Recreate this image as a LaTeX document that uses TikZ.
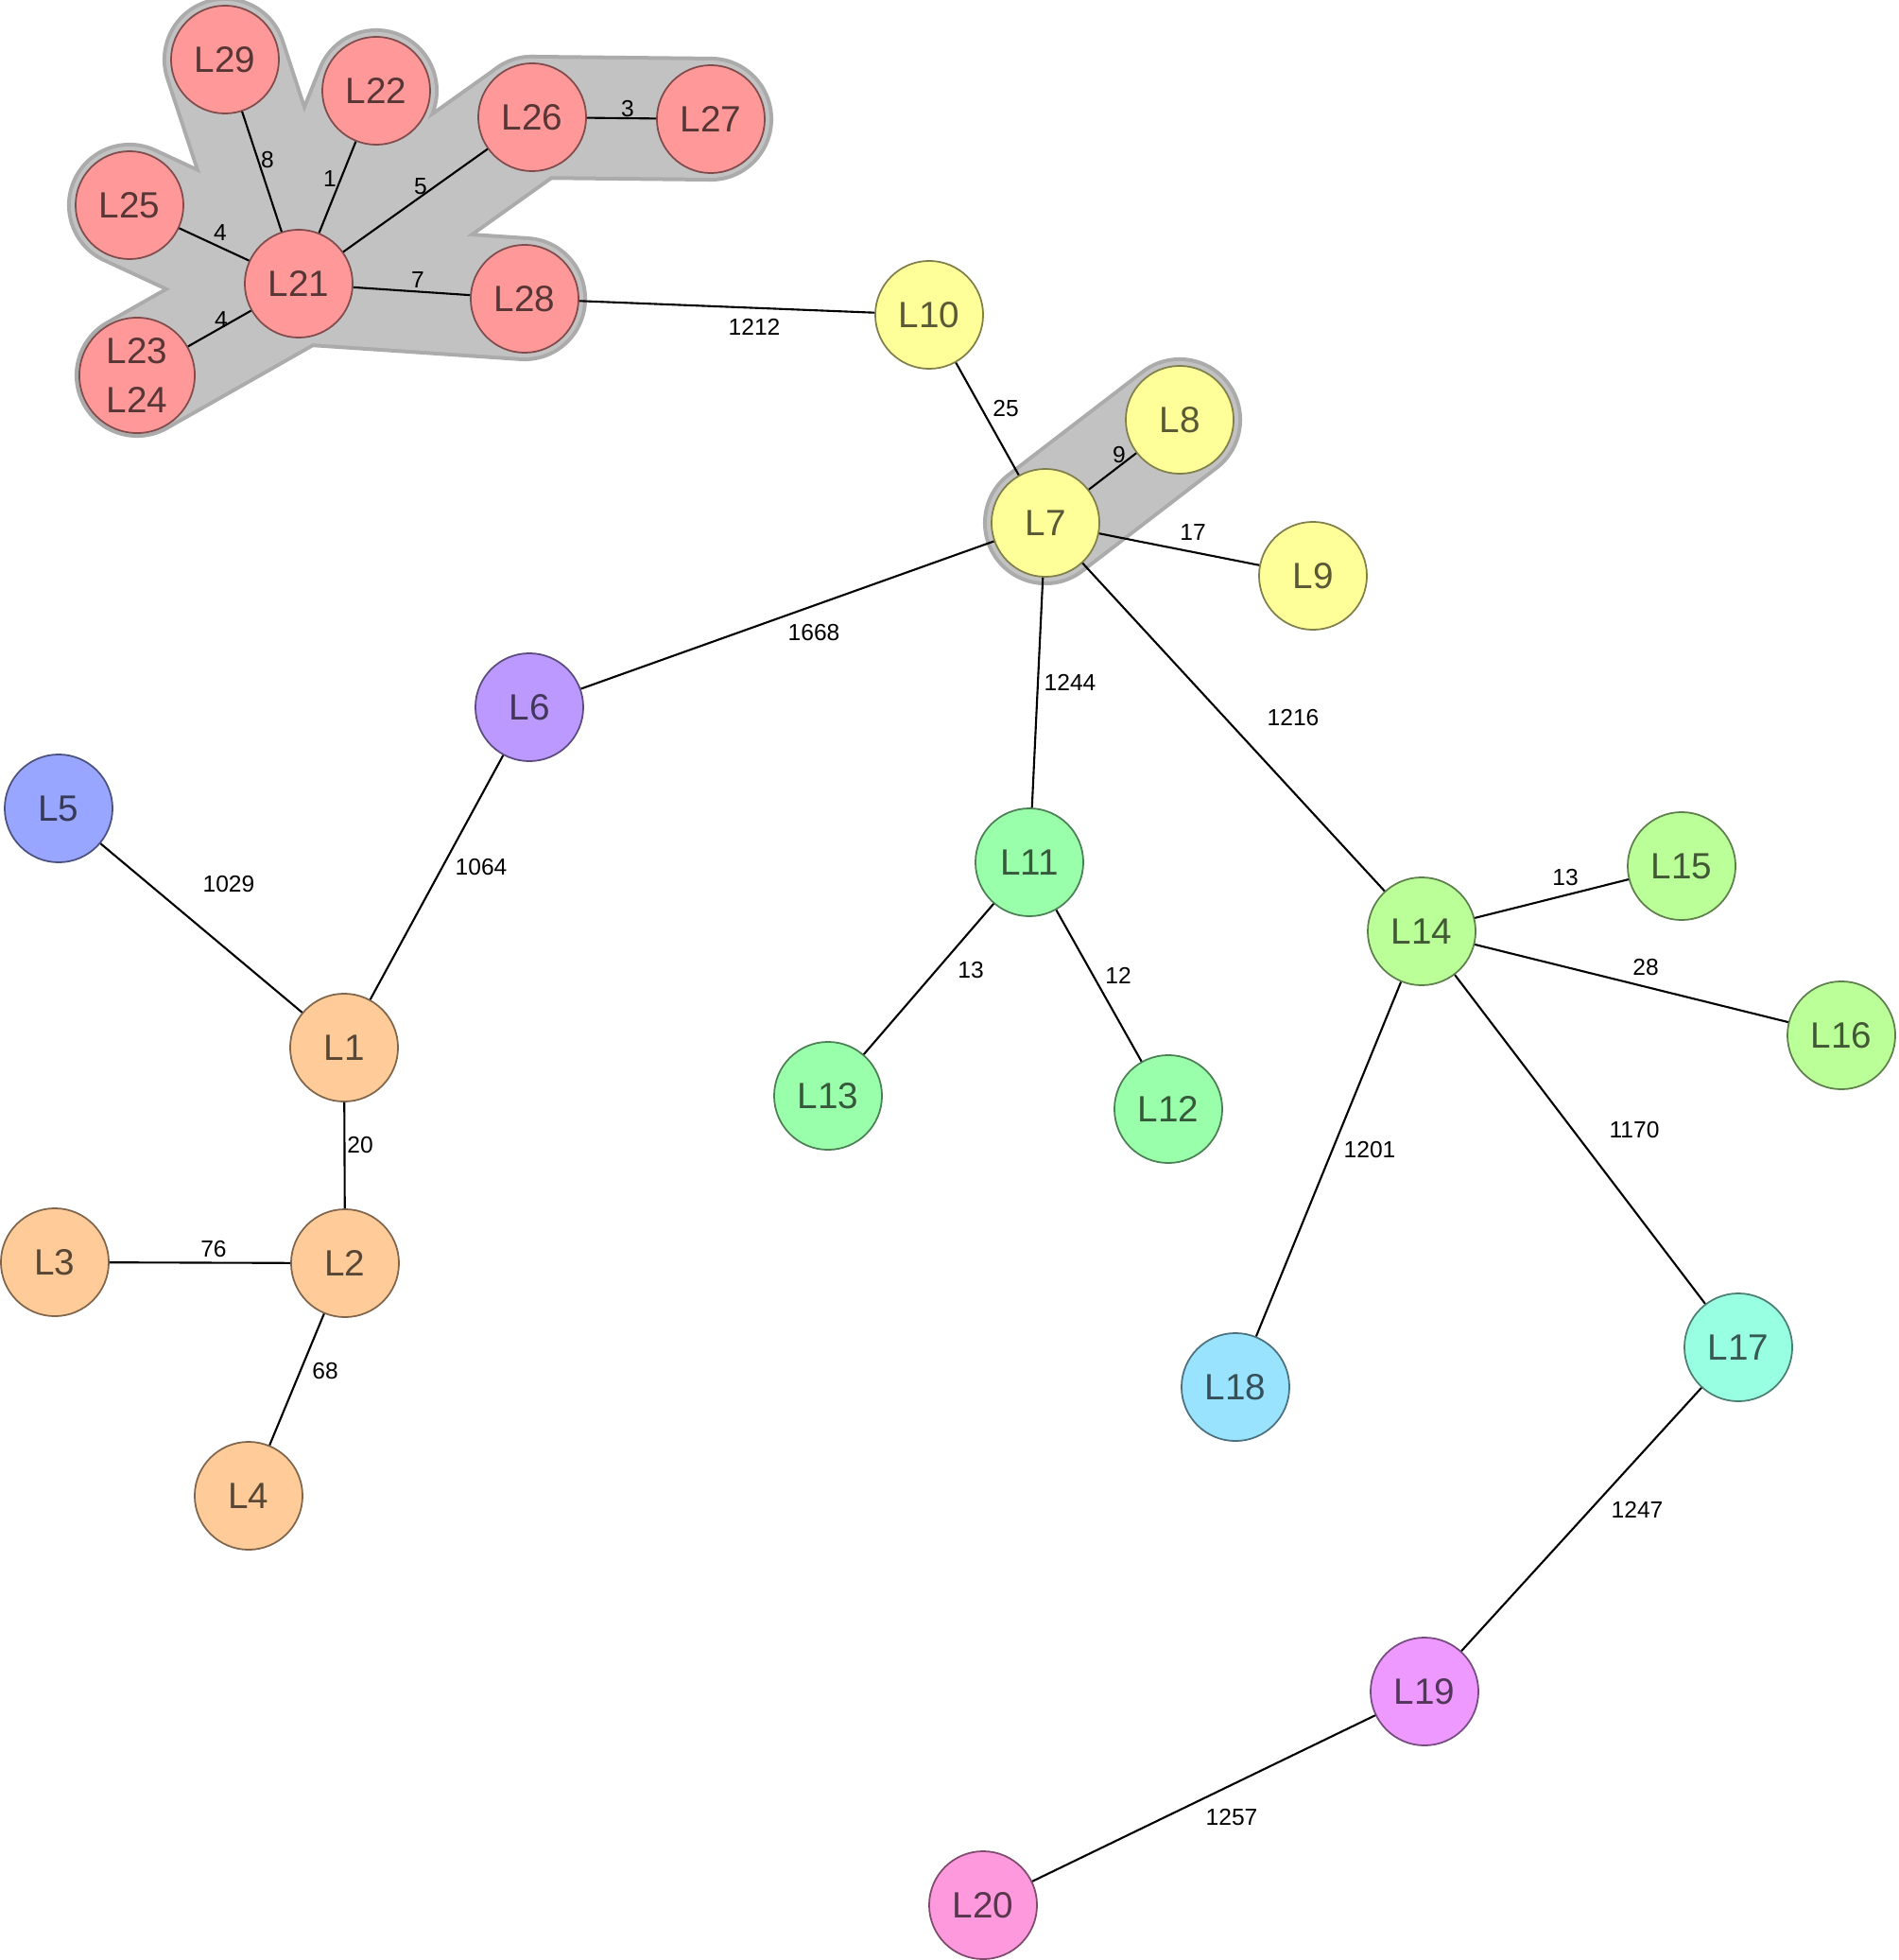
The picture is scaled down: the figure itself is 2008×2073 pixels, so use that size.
\documentclass[tikz,border=0pt]{standalone}
\usepackage{fontspec}
\setmainfont{Liberation Sans}
\usetikzlibrary{backgrounds}
\definecolor{stRed}{HTML}{FF9999}
\definecolor{stYellow}{HTML}{FFFF99}
\definecolor{stOrange}{HTML}{FFCC99}
\definecolor{stBlue}{HTML}{99A6FF}
\definecolor{stPurple}{HTML}{BB99FF}
\definecolor{stGreen}{HTML}{99FFAA}
\definecolor{stLime}{HTML}{BBFF99}
\definecolor{stSky}{HTML}{99E3FF}
\definecolor{stAqua}{HTML}{99FFE3}
\definecolor{stViolet}{HTML}{EE99FF}
\definecolor{stPink}{HTML}{FF99DD}
\definecolor{haloGray}{HTML}{C2C2C2}
\definecolor{haloEdge}{HTML}{ABABAB}
\tikzset{
  strainNode/.style={circle, fill=#1, draw=#1!50!black, text=#1!35!black, line width=0.5pt,
    minimum size=1.14cm, inner sep=0pt, font=\fontsize{11}{15}\selectfont},
  distEdge/.style={draw=black, line width=0.6pt},
  distLabel/.style={font=\fontsize{7}{8}\selectfont, inner sep=1pt},
  haloRim/.style={draw=haloEdge, line width=1.32cm, line cap=round},
  haloFill/.style={draw=haloGray, line width=1.24cm, line cap=round}
}

\begin{document}
\begin{tikzpicture}[x=0.01cm,y=-0.01cm]
  \useasboundingbox (0,0) rectangle (2008,2073);
  % red cluster
  \node[strainNode=stRed] (L21) at (316,300) {L21};
  \node[strainNode=stRed] (L29) at (238,63) {L29};
  \node[strainNode=stRed] (L22) at (398,96) {L22};
  \node[strainNode=stRed] (L26) at (563,124) {L26};
  \node[strainNode=stRed] (L27) at (752,126) {L27};
  \node[strainNode=stRed] (L25) at (137,217) {L25};
  \node[strainNode=stRed] (L28) at (555,316) {L28};
  \node[strainNode=stRed, minimum size=1.22cm, align=center] (L23) at (145,397) {L23\\L24};
  % yellow
  \node[strainNode=stYellow] (L10) at (983,333) {L10};
  \node[strainNode=stYellow] (L7) at (1106,553) {L7};
  \node[strainNode=stYellow] (L8) at (1248,444) {L8};
  \node[strainNode=stYellow] (L9) at (1389,609) {L9};
  % left part
  \node[strainNode=stPurple] (L6) at (560,748) {L6};
  \node[strainNode=stBlue] (L5) at (62,855) {L5};
  \node[strainNode=stOrange] (L1) at (364,1108) {L1};
  \node[strainNode=stOrange] (L2) at (365,1336) {L2};
  \node[strainNode=stOrange] (L3) at (58,1335) {L3};
  \node[strainNode=stOrange] (L4) at (263,1582) {L4};
  % greens
  \node[strainNode=stGreen] (L11) at (1089,912) {L11};
  \node[strainNode=stGreen] (L13) at (876,1159) {L13};
  \node[strainNode=stGreen] (L12) at (1236,1173) {L12};
  \node[strainNode=stLime] (L14) at (1504,985) {L14};
  \node[strainNode=stLime] (L15) at (1779,916) {L15};
  \node[strainNode=stLime] (L16) at (1948,1095) {L16};
  % lower right
  \node[strainNode=stSky] (L18) at (1307,1467) {L18};
  \node[strainNode=stAqua] (L17) at (1839,1425) {L17};
  \node[strainNode=stViolet] (L19) at (1507,1789) {L19};
  \node[strainNode=stPink] (L20) at (1040,2015) {L20};

  \begin{scope}[on background layer]
    \foreach \a/\b in {L21/L29,L21/L22,L21/L26,L26/L27,L21/L25,L21/L28,L21/L23,L7/L8}
      \draw[haloRim] (\a.center) -- (\b.center);
    \foreach \a/\b in {L21/L29,L21/L22,L21/L26,L26/L27,L21/L25,L21/L28,L21/L23,L7/L8}
      \draw[haloFill] (\a.center) -- (\b.center);
  \end{scope}

  \foreach \a/\b in {L21/L29,L21/L22,L21/L26,L26/L27,L21/L25,L21/L28,L21/L23,L28/L10,
    L10/L7,L7/L8,L7/L9,L7/L6,L7/L11,L7/L14,L5/L1,L6/L1,L1/L2,L3/L2,L2/L4,
    L11/L13,L11/L12,L14/L15,L14/L16,L14/L18,L14/L17,L17/L19,L19/L20}
    \draw[distEdge] (\a) -- (\b);

  \node[distLabel] (d29) at (283,169) {8};
  \node[distLabel] (d22) at (349,189) {1};
  \node[distLabel] (d26) at (445,197) {5};
  \node[distLabel] (d27) at (664,115) {3};
  \node[distLabel] (d25) at (233,246) {4};
  \node[distLabel] (d28) at (442,296) {7};
  \node[distLabel] (d23) at (234,338) {4};
  \node[distLabel] (d10) at (798,346) {1212};
  \node[distLabel] (d7) at (1064,432) {25};
  \node[distLabel] (d8) at (1184,481) {9};
  \node[distLabel] (d9) at (1262,563) {17};
  \node[distLabel] (d6) at (861,669) {1668};
  \node[distLabel] (d11) at (1132,722) {1244};
  \node[distLabel] (d14) at (1368,759) {1216};
  \node[distLabel] (d5) at (242,935) {1029};
  \node[distLabel] (d1) at (509,917) {1064};
  \node[distLabel] (d2) at (381,1211) {20};
  \node[distLabel] (d3) at (226,1321) {76};
  \node[distLabel] (d4) at (344,1450) {68};
  \node[distLabel] (d13) at (1027,1026) {13};
  \node[distLabel] (d12) at (1183,1032) {12};
  \node[distLabel] (d15) at (1656,928) {13};
  \node[distLabel] (d16) at (1741,1023) {28};
  \node[distLabel] (d18) at (1449,1216) {1201};
  \node[distLabel] (d17) at (1729,1195) {1170};
  \node[distLabel] (d19) at (1732,1597) {1247};
  \node[distLabel] (d20) at (1303,1922) {1257};
\end{tikzpicture}
\end{document}
